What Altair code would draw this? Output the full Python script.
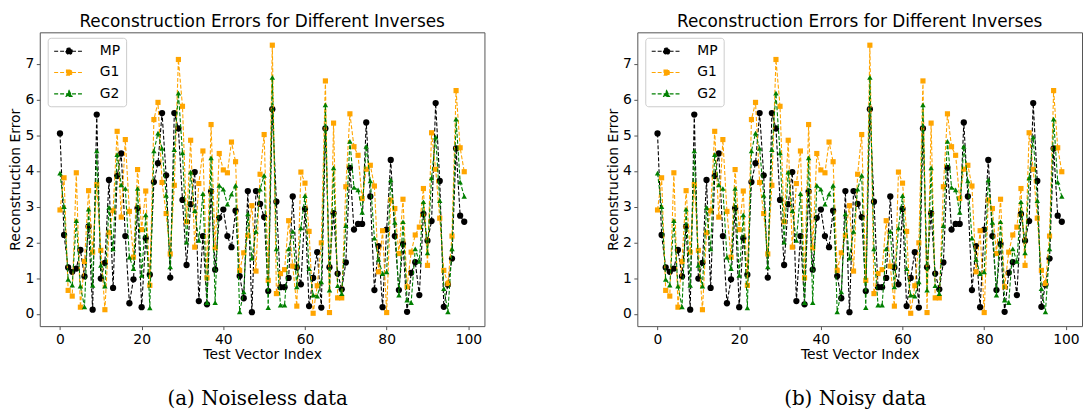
import altair as alt
import pandas as pd

index = list(range(100))

mp = [5.05, 2.21, 1.30, 1.18, 1.27, 1.79, 1.05, 2.45, 0.12, 5.58,
      0.99, 1.43, 3.75, 0.73, 3.86, 4.49, 2.18, 0.30, 0.97, 2.96,
      0.19, 2.12, 1.10, 3.69, 4.22, 5.62, 3.88, 1.02, 5.62, 5.19,
      3.19, 1.37, 3.07, 3.97, 0.36, 2.18, 0.27, 3.43, 1.24, 2.69,
      2.92, 2.18, 1.87, 2.89, 1.06, 0.44, 3.44, 0.05, 3.44, 3.08,
      2.71, 0.64, 5.73, 3.14, 0.75, 0.75, 1.01, 3.29, 1.30, 0.83,
      2.94, 0.22, 1.01, 1.73, 0.18, 5.19, 1.31, 2.82, 1.13, 0.69,
      1.44, 4.09, 2.36, 2.52, 2.52, 5.36, 3.29, 0.67, 1.90, 0.19,
      2.36, 4.31, 2.18, 0.67, 1.96, 0.06, 1.15, 1.45, 0.53, 2.80,
      2.05, 2.60, 5.90, 3.72, 0.20, 0.82, 1.55, 4.63, 2.75, 2.58]

g1 = [2.91, 3.81, 0.66, 0.50, 3.95, 0.19, 1.47, 3.45, 1.73, 3.62,
      1.78, 0.12, 2.27, 2.89, 5.11, 2.71, 4.88, 2.87, 1.59, 4.04,
      2.36, 3.44, 0.80, 5.44, 5.92, 3.68, 2.81, 1.68, 3.60, 7.12,
      5.81, 2.58, 4.86, 1.87, 3.65, 4.56, 1.01, 5.30, 1.85, 4.49,
      4.03, 3.95, 4.81, 4.26, 1.22, 1.71, 2.19, 3.03, 1.20, 3.91,
      5.02, 0.94, 7.52, 0.57, 1.13, 1.24, 2.61, 1.34, 0.22, 3.97,
      3.66, 2.31, 0.02, 0.79, 1.99, 6.52, 0.04, 5.34, 0.45, 0.45,
      3.56, 5.60, 4.68, 4.44, 3.23, 4.05, 4.16, 3.58, 1.18, 2.33,
      0.04, 3.19, 2.95, 1.69, 3.21, 0.76, 1.73, 2.21, 2.43, 3.51,
      1.36, 5.07, 4.05, 2.68, 1.22, 0.85, 2.18, 6.25, 4.65, 3.98]

g2 = [3.94, 3.00, 0.97, 0.81, 2.61, 0.78, 0.20, 2.93, 0.80, 4.56,
      1.36, 0.78, 2.98, 1.82, 4.46, 3.61, 3.51, 1.59, 1.27, 3.51,
      1.08, 2.77, 0.17, 4.56, 5.06, 4.63, 3.32, 1.32, 4.60, 6.18,
      4.51, 2.01, 3.97, 2.89, 2.06, 3.37, 0.32, 4.37, 0.32, 3.60,
      3.49, 3.07, 3.35, 3.60, 0.06, 0.62, 2.80, 1.56, 2.31, 3.49,
      3.88, 0.18, 6.62, 1.82, 0.25, 0.25, 1.82, 2.31, 0.76, 2.41,
      3.31, 1.27, 0.53, 0.50, 0.90, 5.85, 0.67, 4.09, 0.79, 0.57,
      2.47, 4.83, 3.54, 3.47, 2.84, 4.69, 3.72, 2.12, 1.53, 1.13,
      1.18, 3.75, 2.56, 0.53, 2.58, 0.39, 0.32, 1.82, 1.47, 3.14,
      1.71, 3.81, 4.95, 3.17, 0.71, 0.06, 1.82, 5.45, 3.69, 3.29]

series_names = ["MP", "G1", "G2"]
series_colors = ["black", "orange", "green"]
series_shapes = ["circle", "square", "triangle-up"]
series_sizes = [40, 27, 30]
legend_paths = [
    "M-1,0H3.286M1.6,0A0.457,0.457,0,1,1,0.686,0A0.457,0.457,0,1,1,1.6,0Z",
    "M-1,0H3.286M0.772,-0.371H1.514V0.371H0.772Z",
    "M-1,0H3.286M1.143,-0.5L1.572,0.357L0.714,0.357Z",
]
x_ticks = [0, 20, 40, 60, 80, 100]
y_ticks = [0, 1, 2, 3, 4, 5, 6, 7]
panel_title = "Reconstruction Errors for Different Inverses"
captions = ["(a) Noiseless data", "(b) Noisy data"]


def make_panel(caption, mp_vals, g1_vals, g2_vals):
    df = pd.DataFrame({
        "index": index * 3,
        "series": ["MP"] * 100 + ["G1"] * 100 + ["G2"] * 100,
        "value": mp_vals + g1_vals + g2_vals,
    })
    x = alt.X("index:Q", title="Test Vector Index",
              scale=alt.Scale(domain=[-4.95, 103.95], nice=False, zero=False),
              axis=alt.Axis(values=x_ticks))
    y = alt.Y("value:Q", title="Reconstruction Error",
              scale=alt.Scale(domain=[-0.34, 7.88], nice=False, zero=False),
              axis=alt.Axis(values=y_ticks))
    layers = []
    for name, color, shape, size in zip(series_names, series_colors, series_shapes, series_sizes):
        base = alt.Chart(df).transform_filter(alt.datum.series == name)
        layers.append(base.mark_line(color=color, strokeWidth=1.1, strokeDash=[4, 2]).encode(x=x, y=y))
        layers.append(base.mark_point(shape=shape, filled=True, color=color, opacity=1, size=size).encode(x=x, y=y))

    legend = alt.Legend(
        title=None, orient="none", legendX=8, legendY=5.5, direction="vertical",
        padding=5.5, rowPadding=6.5, labelOffset=31, labelFontSize=14, labelFont="DejaVu Sans",
        labelColor="black", symbolSize=196, symbolStrokeWidth=1.1, symbolDash=[4, 2],
        strokeColor="#cccccc", fillColor="white", cornerRadius=3, symbolOpacity=1,
    )
    legend_layer = alt.Chart(df).transform_filter("false").mark_point(filled=True, opacity=1).encode(
        x=x, y=y,
        fill=alt.Fill("series:N", scale=alt.Scale(domain=series_names, range=series_colors), legend=legend),
        stroke=alt.Stroke("series:N", scale=alt.Scale(domain=series_names, range=series_colors), legend=legend),
        shape=alt.Shape("series:N", scale=alt.Scale(domain=series_names, range=legend_paths), legend=legend),
    )
    panel = alt.layer(*layers, legend_layer).properties(
        width=448, height=296,
        title=alt.TitleParams(panel_title, anchor="middle", offset=1),
    )
    return alt.vconcat(panel, title=alt.TitleParams(
        caption, orient="bottom", anchor="middle", font="DejaVu Serif",
        fontSize=20, fontWeight="normal", color="black", offset=27, dx=11))


chart = alt.hconcat(
    make_panel(captions[0], mp, g1, g2),
    make_panel(captions[1], mp, g1, g2),
    spacing=121,
).resolve_scale(
    fill="independent", stroke="independent", shape="independent"
).resolve_legend(
    fill="independent", stroke="independent", shape="independent"
).properties(
    padding={"top": 3, "left": 0, "right": 0, "bottom": 0}
).configure_view(
    stroke="#555555", strokeWidth=1
).configure_axis(
    domain=False, grid=False, tickColor="#555555", tickSize=3.5,
    labelFont="DejaVu Sans", labelFontSize=14, labelColor="black", labelPadding=2.5,
    titleFont="DejaVu Sans", titleFontSize=14, titleFontWeight="normal", titleColor="black",
    titlePadding=2,
).configure_title(
    font="DejaVu Sans", fontSize=17, fontWeight="normal", color="black"
)

chart.save("out.html", embed_options={"renderer": "svg", "actions": False})
